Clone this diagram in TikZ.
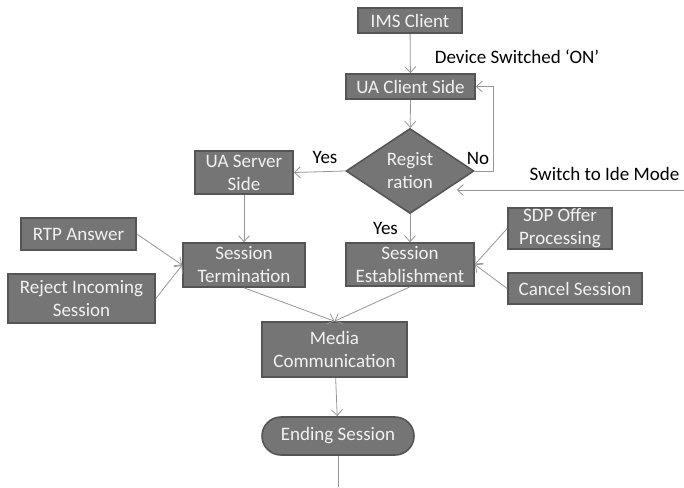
\documentclass[tikz,border=0pt]{standalone}
\usepackage{fontspec}
\setmainfont{Carlito}
\usetikzlibrary{arrows.meta,shapes.geometric}
\definecolor{boxfill}{RGB}{117,117,117}
\definecolor{boxline}{RGB}{85,85,85}
\definecolor{linegray}{RGB}{150,150,150}
\definecolor{boxtext}{RGB}{242,242,242}
\newcommand{\boxwidth}{1.6pt}
\newcommand{\txtsize}{\fontsize{19}{23}\selectfont}
\tikzset{
  blk/.style={fill=boxfill, draw=boxline, line width=\boxwidth, text=boxtext,
    align=center, inner sep=0pt, font=\txtsize},
  arr/.style={draw=linegray, line width=0.8pt, -{Straight Barb[length=6pt,width=11pt]}},
  wire/.style={draw=linegray, line width=0.8pt},
  lbl/.style={font=\txtsize, text=black, inner sep=0pt}
}

\begin{document}
\begin{tikzpicture}[x=1pt, y=-1pt]
\useasboundingbox (0,0) rectangle (684,487);
%boxes
\node[blk, minimum width=104pt, minimum height=25pt] (ims) at (410,20.5) {IMS Client};
\node[blk, minimum width=129pt, minimum height=25pt] (uac) at (410.5,86.5) {UA Client Side};
\node[blk, diamond, minimum width=128pt, minimum height=85pt] (reg) at (410,171) {Regist\\ration};
\node[blk, minimum width=98pt, minimum height=43pt] (uas) at (244,172.5) {UA Server\\Side};
\node[blk, minimum width=122pt, minimum height=44pt] (term) at (244,265) {Session\\Termination};
\node[blk, minimum width=128pt, minimum height=43pt] (est) at (410,264.5) {Session\\Establishment};
\node[blk, minimum width=115pt, minimum height=32pt] (rtp) at (78.5,234) {RTP Answer};
\node[blk, minimum width=147pt, minimum height=49pt] (rej) at (81.5,298.5) {Reject Incoming\\Session};
\node[blk, minimum width=104pt, minimum height=41pt] (sdp) at (560,228.5) {SDP Offer\\Processing};
\node[blk, minimum width=134pt, minimum height=31pt] (cancel) at (575,288.5) {Cancel Session};
\node[blk, minimum width=145pt, minimum height=55pt] (media) at (334.5,349.5) {Media\\Communication};
\node[blk, minimum width=152pt, minimum height=38pt, rounded corners=19pt] (ending) at (338,436) {Ending Session};
%labels
\node[lbl] (devon) at (517,57) {Device Switched ‘ON’};
\node[lbl] (no) at (478,158) {No};
\node[lbl] (yesl) at (325,157) {Yes};
\node[lbl] (yesd) at (385.5,228) {Yes};
\node[lbl] (idle) at (604.5,174) {Switch to Ide Mode};
\coordinate (swin) at (684,190);
\coordinate (out) at (338,487);
%connectors
\draw[arr] (ims) -- (uac);
\draw[arr] (uac) -- (reg);
\draw[arr] (reg.east) -- ++(19,0) |- (uac.east);
\draw[arr] (reg.west) -- (uas.east);
\draw[arr] (reg.south) -- (est.north);
\draw[arr] (swin) -- ([xshift=-18pt]swin -| reg.east);
\draw[arr] (uas) -- (term);
\draw[arr] (rtp.east) -- (term.west);
\draw[arr] (rej.east) -- (term.west);
\draw[arr] (sdp.west) -- (est.east);
\draw[arr] (cancel.west) -- (est.east);
\draw[arr] (term.south) -- (media.north);
\draw[arr] (est.south) -- (media.north);
\draw[arr] (media) -- (ending);
\draw[wire] (ending) -- (out);
\end{tikzpicture}
\end{document}
